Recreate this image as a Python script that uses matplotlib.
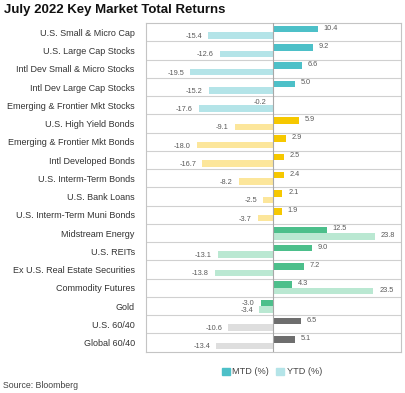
import matplotlib
matplotlib.use("Agg")
import matplotlib.pyplot as plt
from matplotlib.patches import Patch
import numpy as np

categories = ["U.S. Small & Micro Cap", "U.S. Large Cap Stocks", "Intl Dev Small & Micro Stocks",
              "Intl Dev Large Cap Stocks", "Emerging & Frontier Mkt Stocks", "U.S. High Yield Bonds",
              "Emerging & Frontier Mkt Bonds", "Intl Developed Bonds", "U.S. Interm-Term Bonds",
              "U.S. Bank Loans", "U.S. Interm-Term Muni Bonds", "Midstream Energy", "U.S. REITs",
              "Ex U.S. Real Estate Securities", "Commodity Futures", "Gold", "U.S. 60/40", "Global 60/40"]
mtd = [10.4, 9.2, 6.6, 5.0, -0.2, 5.9, 2.9, 2.5, 2.4, 2.1, 1.9, 12.5, 9.0, 7.2, 4.3, -3.0, 6.5, 5.1]
ytd = [-15.4, -12.6, -19.5, -15.2, -17.6, -9.1, -18.0, -16.7, -8.2, -2.5, -3.7, 23.8, -13.1, -13.8, 23.5, -3.4, -10.6, -13.4]
groups = ["eq"] * 5 + ["bd"] * 6 + ["ra"] * 5 + ["mx"] * 2

mtd_colors = {"eq": "#4dc0c8", "bd": "#f6c800", "ra": "#4cbf8b", "mx": "#6e6e6e"}
ytd_colors = {"eq": "#b4e4e8", "bd": "#fce69b", "ra": "#bae8d2", "mx": "#dedede"}

plt.rcParams['font.family'] = ['Liberation Sans', 'DejaVu Sans']

fig = plt.figure(figsize=(4.06, 3.93), dpi=100)
ax = fig.add_axes([0.359, 0.105, 0.629, 0.836])

n = len(categories)
y = np.arange(n)
h = 0.36
off = 0.18
ax.barh(y - off, mtd, height=h, color=[mtd_colors[g] for g in groups], zorder=3)
ax.barh(y + off, ytd, height=h, color=[ytd_colors[g] for g in groups], zorder=3)

lab_fs = 5.3
lab_col = "#5a5a5a"
for i in range(n):
    for val, yy in ((mtd[i], y[i] - off), (ytd[i], y[i] + off)):
        if val >= 0:
            ax.text(val + 1.4, yy - 0.05, f"{val:.1f}", ha="left", va="center", fontsize=lab_fs, color=lab_col)
        else:
            ax.text(val - 1.4, yy + 0.05, f"{val:.1f}", ha="right", va="center", fontsize=lab_fs, color=lab_col)

ax.set_xlim(-30, 30)
ax.set_ylim(n - 0.5, -0.5)
ax.set_yticks(y)
ax.set_yticklabels(categories, fontsize=6.5, color="#333333")
ax.tick_params(axis="y", length=0, pad=8)
ax.set_xticks([])
for b in np.arange(0.5, n - 0.5, 1):
    ax.axhline(b, color="#d0d0d0", lw=0.8, zorder=1)
ax.axvline(0, color="#a8a8a8", lw=0.8, zorder=4)
for s in ax.spines.values():
    s.set_color("#c4c4c4")
    s.set_linewidth(0.8)

fig.text(0.01, 0.975, "July 2022 Key Market Total Returns", fontsize=9.5, fontweight="bold",
         color="#111111", va="center", ha="left")

handles = [Patch(color=mtd_colors["eq"], label="MTD (%)"), Patch(color=ytd_colors["eq"], label="YTD (%)")]
fig.legend(handles=handles, loc="center", bbox_to_anchor=(0.67, 0.054), ncol=2, frameon=False,
           fontsize=6.6, handlelength=0.8, handleheight=0.8, handletextpad=0.3, columnspacing=0.8,
           labelcolor="#444444")

fig.text(0.008, 0.018, "Source: Bloomberg", fontsize=6.3, color="#444444", va="center", ha="left")

fig.savefig("out.png", dpi=100)
